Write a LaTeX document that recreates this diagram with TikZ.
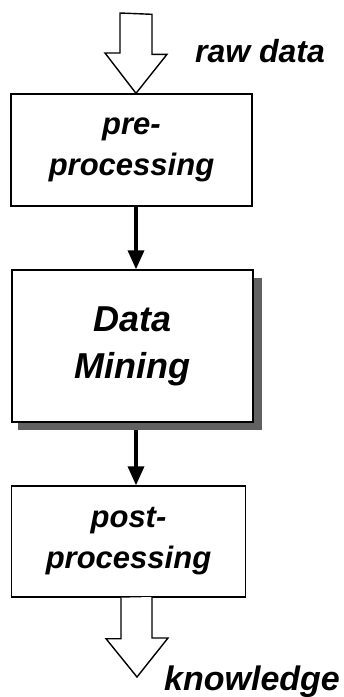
\documentclass[tikz,border=0pt]{standalone}
\usepackage{fontspec}
\setmainfont{Liberation Sans}
\usetikzlibrary{arrows.meta}
\tikzset{
  box/.style={draw=black, line width=1.4pt, fill=white, inner sep=0pt},
  boxtext/.style={font=\bfseries\itshape\fontsize{31}{41}\selectfont, align=center},
  bigtext/.style={font=\bfseries\itshape\fontsize{36}{47}\selectfont, align=center},
  lbl/.style={font=\bfseries\itshape\fontsize{32}{36}\selectfont, inner sep=0pt},
  hollow/.style={draw=black, line width=1.4pt, fill=white, line join=miter},
  flow/.style={draw=black, line width=3.5pt, -{Triangle[length=19pt, width=16pt]}},
  shadowfill/.style={fill=black!62}
}
\begin{document}
\begin{tikzpicture}[x=1pt, y=-1pt]
\useasboundingbox (0,0) rectangle (344,697);
% boxes
\node[box, minimum width=241pt, minimum height=112pt] (pre) at (131.5,150) {};
\node[boxtext] (pretext) at (pre.center) {pre-\\processing};
\fill[shadowfill] (253,278) rectangle (262,430);
\fill[shadowfill] (18,422) rectangle (262,430);
\node[box, minimum width=241pt, minimum height=152pt] (dm) at (132.5,346) {};
\node[bigtext] (dmtext) at (dm.center) {Data\\Mining};
\node[box, minimum width=234pt, minimum height=111pt] (post) at (128.5,541.5) {};
\node[boxtext] (posttext) at (post.center) {post-\\processing};
% input hollow arrow
\coordinate (inTop) at (136,13);
\draw[hollow] (inTop) ++(-16,0) -- ++(0,40) -- ++(-15,0) -- (pre.north -| inTop) -- ++(31,-39) -- ++(-15,0) -- ++(0,-40) -- cycle;
% output hollow arrow
\coordinate (outTip) at (137,677);
\draw[hollow] (post.south -| outTip) ++(-16,0) -- ++(0,41) -- ++(-15,0) -- (outTip) -- ++(31,-39) -- ++(-16,0) -- ++(0,-41);
% flow arrows
\draw[flow] (pre.south -| 136,0) -- (dm.north -| 136,0);
\draw[flow] (136,430) -- (post.north -| 136,0);
% labels
\node[lbl, anchor=base] (raw) at (260,62) {raw data};
\node[lbl, font=\bfseries\itshape\fontsize{34}{38}\selectfont, anchor=base] (know) at (252,690) {knowledge};
\end{tikzpicture}
\end{document}
